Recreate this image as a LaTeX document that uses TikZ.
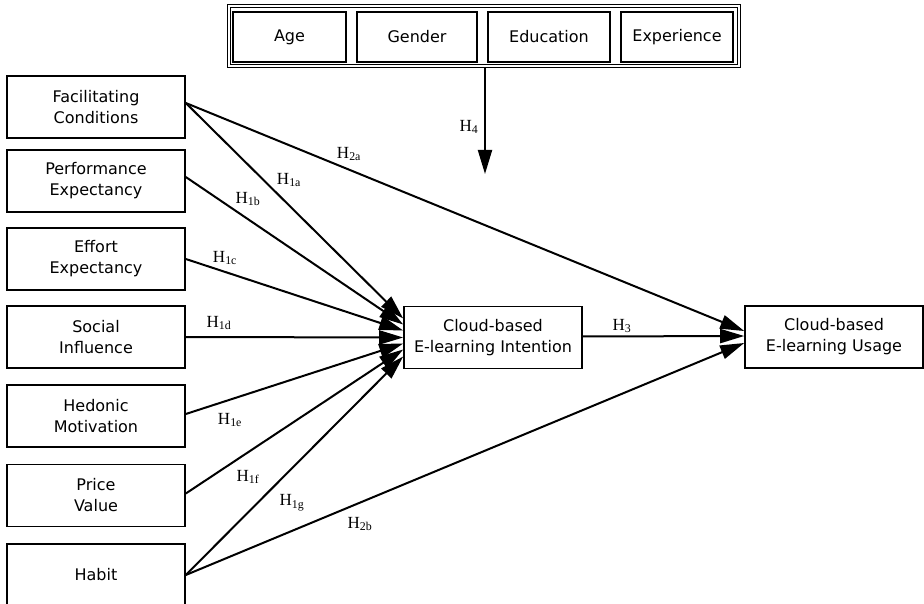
\documentclass[tikz,border=0pt]{standalone}
\usepackage{fontspec}
\setmainfont{DejaVu Sans}
\newfontfamily\labfont{Liberation Serif}
\usetikzlibrary{arrows.meta}
\tikzset{
  box/.style={draw, line width=1.6pt, minimum width=178pt, minimum height=62pt, align=center, inner sep=0pt, font=\fontsize{16}{21}\selectfont},
  modbox/.style={draw, line width=1.8pt, minimum height=50pt, inner sep=0pt, font=\fontsize{16}{21}\selectfont},
  conn/.style={line width=2pt, -{Triangle[length=24pt,width=14pt]}},
  hlab/.style={font=\labfont\fontsize{17}{17}\selectfont, inner sep=0pt},
}
\newcommand{\hyp}[1]{H\textsubscript{#1}}
\begin{document}
\begin{tikzpicture}[x=1pt,y=-1pt]
\useasboundingbox (0,0) rectangle (924,604);
% moderator container (double border)
\draw[line width=1pt] (227.5,5) rectangle (740.5,68);
\draw[line width=1pt] (230.5,8) rectangle (737.5,65);
\node[modbox, minimum width=113pt] (age) at (289.5,37) {Age};
\node[modbox, minimum width=120pt] (gen) at (417,37) {Gender};
\node[modbox, minimum width=122pt] (edu) at (549,37) {Education};
\node[modbox, minimum width=112pt] (exp) at (677,37) {Experience};
\coordinate (modb) at (485,68);
\coordinate (modt) at (485,174);
% left constructs
\node[box] (fc) at (96,107) {Facilitating\\Conditions};
\node[box] (pe) at (96,181) {Performance\\Expectancy};
\node[box] (ee) at (96,259) {Effort\\Expectancy};
\node[box] (si) at (96,337) {Social\\Influence};
\node[box] (hm) at (96,416) {Hedonic\\Motivation};
\node[box] (pv) at (96,495.5) {Price\\Value};
\node[box] (hb) at (96,575) {Habit};
% outcomes
\node[box] (bi) at (493,337.5) {Cloud-based\\E-learning Intention};
\node[box] (us) at (834,337) {Cloud-based\\E-learning Usage};
% connectors
\draw[conn] (modb) -- (modt);
\draw[conn] ([yshift=4pt]fc.east) -- ([yshift=19pt]bi.west);
\draw[conn] ([yshift=4pt]pe.east) -- ([yshift=13pt]bi.west);
\draw[conn] (ee.east) -- ([yshift=7pt]bi.west);
\draw[conn] (si.east) -- (bi.west);
\draw[conn] ([yshift=2pt]hm.east) -- ([yshift=-6pt]bi.west);
\draw[conn] ([yshift=2pt]pv.east) -- ([yshift=-12pt]bi.west);
\draw[conn] (hb.east) -- ([yshift=-19pt]bi.west);
\draw[conn] ([yshift=4pt]fc.east) -- ([yshift=6pt]us.west);
\draw[conn] ([yshift=1pt]bi.east) -- ([yshift=1pt]us.west);
\draw[conn] (hb.east) -- ([yshift=-6pt]us.west);
% labels
\node[hlab] (l4) at (469,127) {\hyp{4}};
\node[hlab] (l2a) at (349,154) {\hyp{2a}};
\node[hlab] (l1a) at (289,180) {\hyp{1a}};
\node[hlab] (l1b) at (248,199) {\hyp{1b}};
\node[hlab] (l1c) at (225,258) {\hyp{1c}};
\node[hlab] (l1d) at (219,323) {\hyp{1d}};
\node[hlab] (l1e) at (230,420) {\hyp{1e}};
\node[hlab] (l1f) at (248,477) {\hyp{1f}};
\node[hlab] (l1g) at (292,503) {\hyp{1g}};
\node[hlab] (l2b) at (360,524) {\hyp{2b}};
\node[hlab] (l3) at (622,326) {\hyp{3}};
\end{tikzpicture}
\end{document}
